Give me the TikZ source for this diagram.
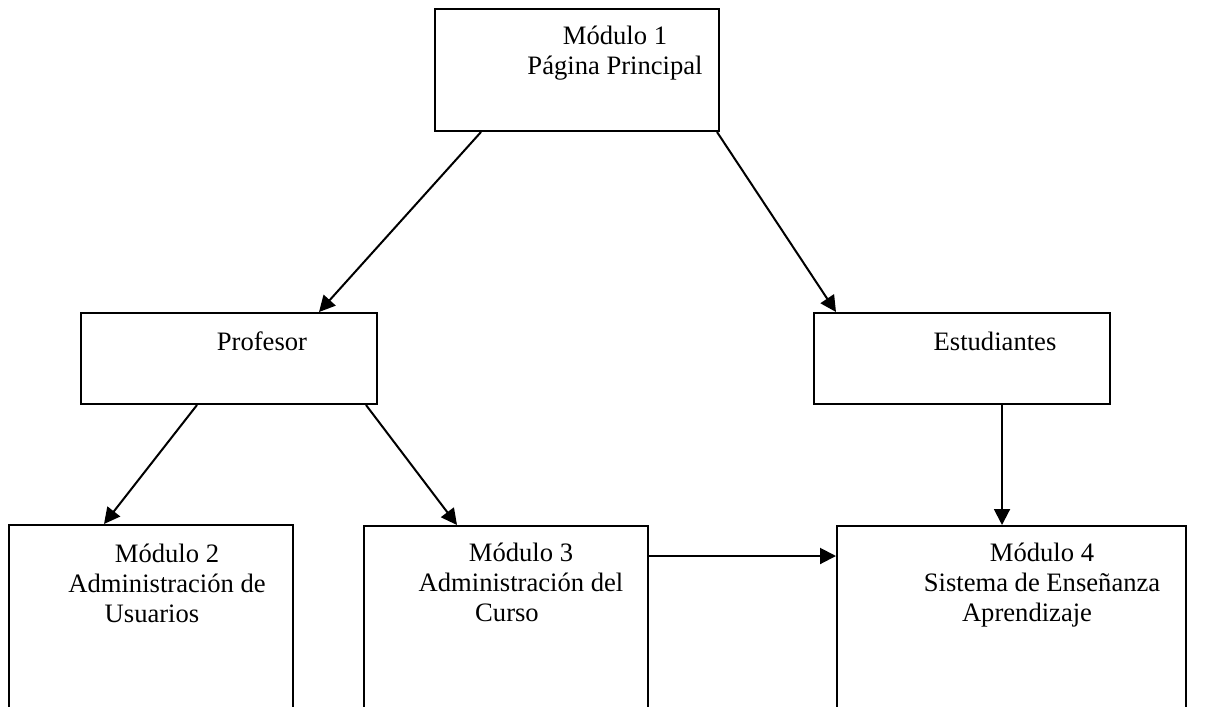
\documentclass[tikz,border=0pt]{standalone}
\usepackage{fontspec}
\setmainfont{Liberation Serif}
\usetikzlibrary{arrows.meta}

\begin{document}
\begin{tikzpicture}[x=0.5pt,y=-0.5pt,>={Triangle[length=8pt,width=8pt]},
	line width=1pt,font=\fontsize{13.3}{15}\selectfont]
	\tikzstyle{modbox}=[draw,rectangle,inner sep=0pt]
	\tikzstyle{txt}=[align=center,anchor=base,inner sep=0pt]
	\tikzstyle{conn}=[->,shorten >=0pt]
	\useasboundingbox (0,0) rectangle (1213,706);
	\clip (0,0) rectangle (1213,706);
	
	% boxes
	\node[modbox,minimum width=142pt,minimum height=61pt]   (M1)   at (577,70)    {};
	\node[modbox,minimum width=148pt,minimum height=45.5pt] (Prof) at (229,358.5) {};
	\node[modbox,minimum width=148pt,minimum height=45.5pt] (Est)  at (962,358.5) {};
	\node[modbox,minimum width=142pt,minimum height=104pt]  (M2)   at (151,629)   {};
	\node[modbox,minimum width=142pt,minimum height=104pt]  (M3)   at (506,630)   {};
	\node[modbox,minimum width=174.5pt,minimum height=104pt](M4)   at (1011.5,630){};
	
	% texts (base = last line)
	\node[txt] (M1text)   at (615,75)  {Módulo 1\\Página Principal};
	\node[txt] (Proftext) at (262,350) {Profesor};
	\node[txt] (Esttext)  at (995,350) {Estudiantes};
	\node[txt] (M2text)   at (167,622) {Módulo 2\\Administración de\\\hbox{Usuarios\kern15pt}};
	\node[txt] (M3text)   at (521,621) {Módulo 3\\Administración del\\\hbox{Curso\kern14pt}};
	\node[txt] (M4text)   at (1042,621) {Módulo 4\\Sistema de Enseñanza\\\hbox{Aprendizaje\kern15pt}};
	
	% connectors
	\draw[conn] ([xshift=23.5pt]M1.south west) -- ([xshift=-29.5pt]Prof.north east);
	\draw[conn] ([xshift=-1.5pt]M1.south east) -- ([xshift=11.5pt]Est.north west);
	\draw[conn] ([xshift=58.5pt]Prof.south west) -- ([xshift=48pt]M2.north west);
	\draw[conn] ([xshift=-6pt]Prof.south east) -- ([xshift=47pt]M3.north west);
	\draw[conn] ([xshift=94.5pt]Est.south west) -- ([xshift=83pt]M4.north west);
	\draw[conn] ([yshift=-15.5pt]M3.north east) -- ([yshift=-15.5pt]M4.north west);
\end{tikzpicture}
\end{document}
